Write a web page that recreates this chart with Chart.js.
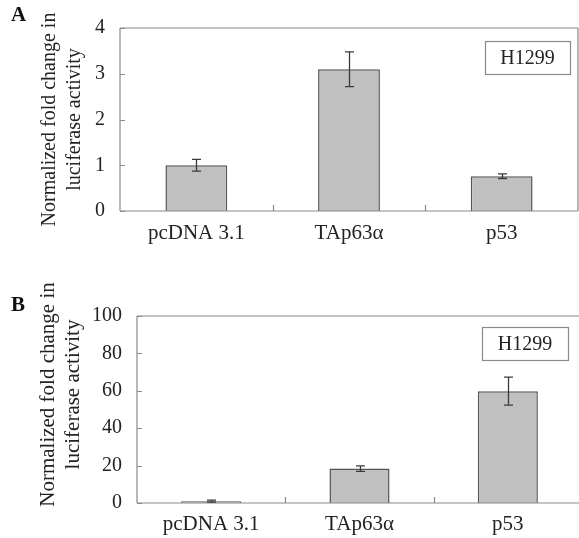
<!DOCTYPE html>
<html><head><meta charset="utf-8">
<script src="https://cdn.jsdelivr.net/npm/chart.js@4"></script>
<style>
html,body{margin:0;padding:0;background:#fff;overflow:hidden;width:579px;height:538px}
canvas{position:absolute;left:0}
</style></head><body>
<canvas id="ca" width="579" height="270" style="top:0"></canvas>
<canvas id="cb" width="582" height="268" style="top:270px"></canvas>
<script>
const categories = ['pcDNA 3.1', 'TAp63\u03b1', 'p53'];
const valuesA = [1.0, 3.1, 0.76];
const errorsA = [0.13, 0.38, 0.05];
const valuesB = [1.0, 18.4, 59.8];
const errorsB = [0.5, 1.5, 7.5];
const ticksA = [0, 1, 2, 3, 4];
const ticksB = [0, 20, 40, 60, 80, 100];
const yTitle = ['Normalized fold change in', 'luciferase activity'];
const cellLine = 'H1299';
const panelA = 'A';
const panelB = 'B';

const SERIF = '"Liberation Serif", "Times New Roman", serif';

function decorPlugin(o) {
  return {
    id: 'decor',
    afterDatasetsDraw(chart) {
      const ctx = chart.ctx, a = chart.chartArea;
      const x = chart.scales.x, y = chart.scales.y;
      ctx.save();
      // frame
      ctx.strokeStyle = '#8a8a8a';
      ctx.lineWidth = 1.2;
      ctx.beginPath();
      ctx.moveTo(a.left, a.bottom); ctx.lineTo(a.left, a.top);
      ctx.moveTo(a.left, a.top); ctx.lineTo(a.right, a.top);
      if (o.rightBorder) { ctx.moveTo(a.right, a.top); ctx.lineTo(a.right, a.bottom); }
      ctx.moveTo(a.left, a.bottom); ctx.lineTo(a.right, a.bottom);
      ctx.stroke();
      // inward y ticks
      ctx.beginPath();
      y.ticks.forEach(t => {
        const py = Math.round(y.getPixelForValue(t.value)) + 0.5;
        ctx.moveTo(a.left, py); ctx.lineTo(a.left + 5, py);
      });
      // category boundary ticks
      const n = chart.data.labels.length;
      for (let i = 1; i < n; i++) {
        const px = Math.round((x.getPixelForValue(i - 1) + x.getPixelForValue(i)) / 2) + 0.5;
        ctx.moveTo(px, a.bottom); ctx.lineTo(px, a.bottom - 6);
      }
      ctx.stroke();
      // error bars
      const ds = chart.data.datasets[0];
      ctx.strokeStyle = '#3a3a3a';
      ctx.lineWidth = 1.3;
      ds.data.forEach((v, i) => {
        const e = o.errors[i];
        const px = Math.round(x.getPixelForValue(i)) + 0.5;
        const y1 = y.getPixelForValue(v + e), y2 = y.getPixelForValue(v - e);
        ctx.beginPath();
        ctx.moveTo(px, y1); ctx.lineTo(px, y2);
        ctx.moveTo(px - 4.5, y1); ctx.lineTo(px + 4.5, y1);
        ctx.moveTo(px - 4.5, y2); ctx.lineTo(px + 4.5, y2);
        ctx.stroke();
      });
      // cell line box
      const bx = a.right - o.boxRight - o.boxW, by = a.top + o.boxTop;
      ctx.fillStyle = '#fff';
      ctx.fillRect(bx, by, o.boxW, o.boxH);
      ctx.strokeStyle = '#8a8a8a';
      ctx.lineWidth = 1.2;
      ctx.strokeRect(bx + 0.5, by + 0.5, o.boxW, o.boxH);
      ctx.fillStyle = '#222';
      ctx.font = '20px ' + SERIF;
      ctx.textAlign = 'center';
      ctx.textBaseline = 'middle';
      ctx.fillText(o.boxText, bx + o.boxW / 2, by + o.boxH / 2 + 1);
      // y-axis title (two lines, rotated)
      ctx.save();
      ctx.translate(o.titleX, (a.top + a.bottom) / 2 + o.titleDy);
      ctx.rotate(-Math.PI / 2);
      ctx.font = o.titleSize + 'px ' + SERIF;
      ctx.fillStyle = '#222';
      yTitle.forEach((t, i) => ctx.fillText(t, 0, i * o.titleGap));
      ctx.restore();
      // panel letter
      ctx.font = 'bold 21px ' + SERIF;
      ctx.textAlign = 'left';
      ctx.fillStyle = '#111';
      ctx.fillText(o.letter, 11, o.letterY);
      ctx.restore();
    }
  };
}

function makeChart(id, values, errors, ticks, opts) {
  return new Chart(document.getElementById(id), {
    type: 'bar',
    data: {
      labels: categories,
      datasets: [{
        data: values,
        backgroundColor: '#c0c0c0',
        borderColor: '#555555',
        borderWidth: 1.5,
        borderSkipped: 'bottom',
        categoryPercentage: 1.0,
        barPercentage: 0.405
      }]
    },
    options: {
      responsive: false,
      animation: false,
      devicePixelRatio: 1,
      layout: { padding: { top: opts.top, right: opts.right, left: 0, bottom: 0 } },
      plugins: { legend: { display: false }, tooltip: { enabled: false } },
      scales: {
        x: {
          offset: true,
          grid: { display: false },
          border: { display: false },
          ticks: { color: '#222', font: { family: SERIF, size: 21 }, padding: opts.xPad, maxRotation: 0 },
          afterFit: s => { s.height = opts.xH; }
        },
        y: {
          min: ticks[0], max: ticks[ticks.length - 1],
          grid: { display: false, drawTicks: false },
          border: { display: false },
          ticks: { stepSize: ticks[1] - ticks[0], color: '#222', font: { family: SERIF, size: 20 }, padding: opts.yPad },
          afterFit: s => { s.width = opts.yW; }
        }
      }
    },
    plugins: [decorPlugin(opts)]
  });
}

makeChart('ca', valuesA, errorsA, ticksA, {
  top: 28, right: 1, xPad: 2, xH: 59, yPad: 15, yW: 120,
  titleX: 50, titleDy: 0, titleSize: 20, titleGap: 25,
  rightBorder: true, errors: errorsA, boxText: cellLine,
  boxW: 85, boxH: 33, boxRight: 8, boxTop: 13, letter: panelA, letterY: 16
});
makeChart('cb', valuesB, errorsB, ticksB, {
  top: 46, right: 0, xPad: 1, xH: 35, yPad: 15, yW: 137,
  titleX: 48, titleDy: -15, titleSize: 21, titleGap: 25,
  rightBorder: false, errors: errorsB, boxText: cellLine,
  boxW: 86, boxH: 33, boxRight: 14, boxTop: 11, letter: panelB, letterY: 36
});
</script>
</body></html>
